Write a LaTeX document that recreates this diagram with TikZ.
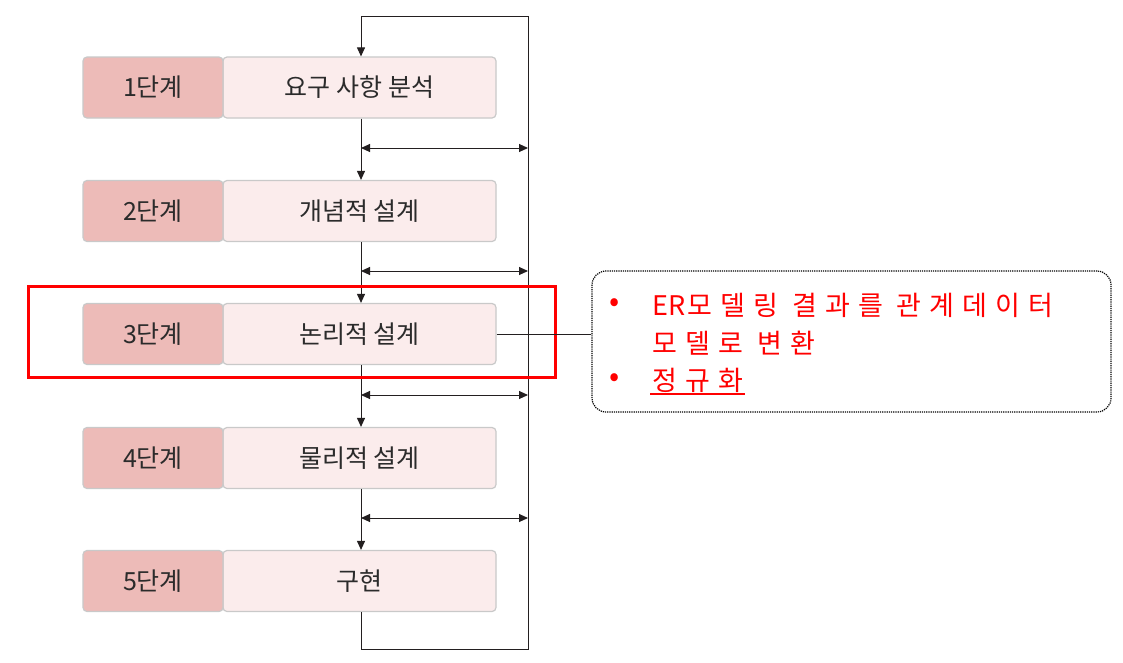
\documentclass[tikz,border=0pt]{standalone}
\usepackage{fontspec}
\newfontfamily\kr{Noto Sans CJK KR}
\newfontfamily\krw[LetterSpace=30]{Noto Sans CJK KR}
\usetikzlibrary{arrows.meta}
\definecolor{lfill}{HTML}{EDBBB8}
\definecolor{rfill}{HTML}{FBECEC}
\definecolor{bline}{HTML}{C9C9C9}
\definecolor{txt}{HTML}{2B2B2B}
\definecolor{lnk}{HTML}{231F20}
\definecolor{red1}{HTML}{FF0000}
\begin{document}
\begin{tikzpicture}[x=1pt,y=-1pt,
  lbox/.style={draw=bline, line width=1.2pt, fill=lfill, rounded corners=4pt, minimum width=140pt, minimum height=61pt, inner sep=0pt, font=\kr\fontsize{25}{29}\selectfont, text=txt},
  rbox/.style={draw=bline, line width=1.2pt, fill=rfill, rounded corners=4pt, minimum width=273pt, minimum height=61pt, inner sep=0pt, font=\kr\fontsize{25}{29}\selectfont, text=txt},
  link/.style={draw=lnk, line width=1pt},
  arr/.style={link, -{Triangle[length=9pt,width=8pt]}},
  darr/.style={link, {Triangle[length=9pt,width=8pt]}-{Triangle[length=9pt,width=8pt]}},
  notetxt/.style={inner sep=0pt, anchor=west, text=red1, font=\krw\fontsize{27}{31}\selectfont},
  bul/.style={inner sep=0pt, text=red1, font=\kr\fontsize{30}{34}\selectfont}
]
\useasboundingbox (0,0) rectangle (1123,662);
\fill[white] (0,0) rectangle (1123,662);

% boxes
\foreach \i/\y/\l/\r in {1/87.5/1단계/요구 사항 분석, 2/211/2단계/개념적 설계, 3/334/3단계/논리적 설계, 4/458/4단계/물리적 설계, 5/581/5단계/구현}{
  \node[rbox] (r\i) at (359.5,\y) {\r};
  \node[lbox] (l\i) at (153,\y) {\l};
}

% loop coordinates
\coordinate (vx) at (361,0);
\coordinate (topL) at (361,16);
\coordinate (topR) at (528,16);
\coordinate (botL) at (361,649);
\coordinate (botR) at (528,649);

% feedback loop
\draw[link] (r5.south -| vx) -- (botL) -- (botR) -- (topR) -- (topL);
\draw[arr] (topL) -- (r1.north -| vx);

% forward arrows
\foreach \a/\b/\h in {1/2/148, 2/3/271, 3/4/395, 4/5/518}{
  \draw[arr] (r\a.south -| vx) -- (r\b.north -| vx);
  \coordinate (h\a L) at (361,\h);
  \coordinate (h\a R) at (528,\h);
  \draw[darr] (h\a L) -- (h\a R);
}

% highlight
\node[draw=red1, line width=3pt, minimum width=527pt, minimum height=91pt, inner sep=0pt] (hl) at (292,332) {};

% note box
\node[draw=black, densely dotted, line width=1.2pt, rounded corners=14pt, minimum width=519pt, minimum height=141pt, inner sep=0pt] (note) at (851.5,341.5) {};
\draw[link] (r3.east) -- (r3.east -| note.west);

\node[bul] (b1) at (615,305) {•};
\node[notetxt] (t1) at (652,305) {{\kr ER}\kern2pt 모델링 결과를 관계데이터};
\node[notetxt] (t2) at (652,343) {모델로 변환};
\node[bul] (b3) at (615,380) {•};
\node[notetxt] (t3) at (652,380) {정규화};
\draw[red1, line width=1.6pt] (650,394) -- (745,394);
\end{tikzpicture}
\end{document}
